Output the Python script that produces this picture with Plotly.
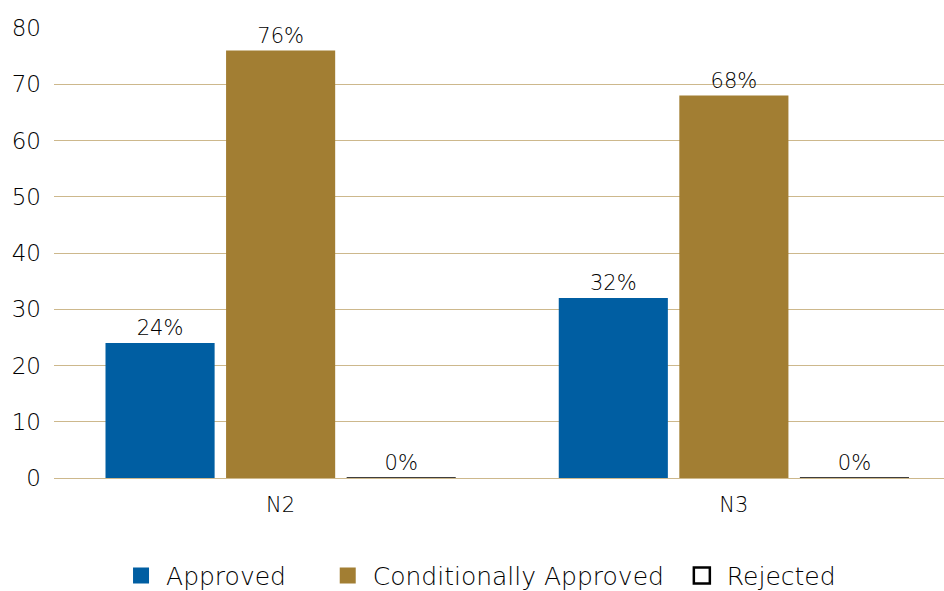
import plotly.graph_objects as go

categories = ["N2", "N3"]
approved = [24, 32]
conditional = [76, 68]
rejected = [0, 0]
y_ticks = [0, 10, 20, 30, 40, 50, 60, 70, 80]

series_names = ["Approved", "Conditionally Approved", "Rejected"]
fills = ["#005EA2", "#A27E33", "white"]
outlines = ["#005EA2", "#A27E33", "black"]
pads = ["\u00a0" * 4, "\u00a0", ""]

font_family = "'DejaVu Sans', sans-serif"
fig = go.Figure()
for name, vals, fc, lc in zip(series_names, [approved, conditional, rejected], fills, outlines):
    fig.add_trace(go.Bar(name=name, x=categories, y=vals,
                         marker=dict(color=fc, line=dict(color=lc, width=1.5 if fc == "white" else 0)),
                         text=[f"{v}%" for v in vals], textposition="outside",
                         cliponaxis=False, showlegend=False))
# legend entries with larger square symbols
for name, fc, lc, pad in zip(series_names, fills, outlines, pads):
    fig.add_trace(go.Scatter(name=name + pad, x=[None], y=[None], mode="markers",
                             marker=dict(symbol="square", size=23, color=fc,
                                         line=dict(color=lc, width=2.5 if fc == "white" else 0)),
                             showlegend=True))

fig.update_layout(
    width=944, height=591,
    margin=dict(l=54, r=0, t=28, b=113, autoexpand=False),
    paper_bgcolor="white", plot_bgcolor="white",
    barmode="group", bargap=0.202, bargroupgap=0.095,
    font=dict(family=font_family, size=22, color="#000000", weight=300),
    legend=dict(orientation="h", x=0.477, xanchor="center", y=-0.217, yanchor="middle",
                font=dict(size=25, weight=300), itemwidth=40, tracegroupgap=0),
    showlegend=True,
)
fig.update_traces(textfont=dict(size=21, color="#000000", weight=300), selector=dict(type="bar"))
fig.update_xaxes(range=[-0.5, 1.4636], showgrid=False, showline=False, ticks="",
                 tickfont=dict(size=21, weight=300), ticklabelstandoff=12)
fig.update_yaxes(range=[0, 80], tickvals=y_ticks, showgrid=True, gridcolor="#CDB88C",
                 gridwidth=1, zeroline=True, zerolinecolor="#CDB88C", zerolinewidth=1,
                 showline=False, ticks="", tickfont=dict(size=23, weight=300), ticklabelstandoff=12)

fig.write_html("out.html", config={"displayModeBar": False},
               post_script="document.body.style.margin='0';")
